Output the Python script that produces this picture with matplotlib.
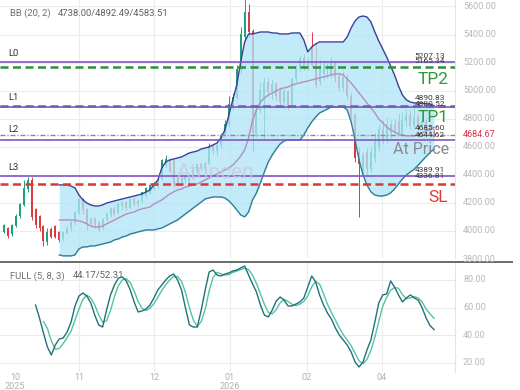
import numpy as np
import matplotlib
matplotlib.use("Agg")
import matplotlib.pyplot as plt
from matplotlib.lines import Line2D

plt.rcParams['font.family'] = ['Roboto', 'DejaVu Sans']

# ---- data ----
opens = [3995,4020,3975,4035,4105,4185,4300,4360,4150,4100,4030,3920,4010,4030,
         3990,3940,3985,4020,4060,4130,4220,4150,4050,4090,4060,4020,4080,4110,4160,4130,
         4180,4200,4160,4220,4190,4210,4250,4270,4300,4320,4370,4470,4500,4500,4380,4340,
         4380,4350,4380,4430,4470,4440,4480,4600,4570,4610,4680,4760,4890,4950,5150,5380,
         5560,5420,4700,4860,4950,5060,4990,5040,4990,4920,4990,4900,5080,5160,5230,5170,
         5300,5200,5060,5120,5180,5110,5200,5100,5020,5090,4960,4820,4560,4430,4560,4440,
         4520,4600,4720,4650,4760,4700,4780,4700,4780,4820,4750,4810,4740,4780,4720,4700]
highs = [4050,4030,4050,4120,4200,4365,4385,4385,4160,4110,4040,4020,4030,4040,
         4000,4000,4035,4070,4140,4240,4235,4160,4100,4100,4070,4090,4135,4170,4175,4205,
         4215,4215,4235,4240,4225,4280,4310,4335,4350,4380,4510,4540,4510,4510,4400,4400,
         4400,4410,4455,4485,4490,4500,4630,4620,4630,4700,4790,4960,4980,5180,5450,5680,
         5620,5440,4900,5060,5100,5100,5080,5060,5025,5010,5005,5100,5180,5250,5260,5240,
         5420,5340,5220,5210,5200,5240,5220,5130,5140,5120,4980,4840,4600,4560,4590,4600,
         4700,4760,4790,4810,4790,4800,4840,4850,4870,4860,4880,4830,4820,4800,4760,4730]
lows = [3985,3950,3965,4025,4095,4180,4280,4080,4020,4000,3890,3900,3950,3950,
        3920,3930,3975,4000,4040,4120,4120,4010,4030,4020,3995,4010,4070,4100,4105,4120,
        4150,4150,4155,4175,4170,4200,4235,4260,4290,4305,4360,4455,4410,4310,4320,4320,
        4340,4340,4365,4415,4430,4430,4470,4550,4540,4590,4670,4740,4860,4940,5120,5350,
        5380,4560,4670,4840,4650,4960,4940,4930,4900,4870,4860,4890,5060,5140,5150,5150,
        5170,5020,5040,5080,5090,5100,5060,5000,5000,4940,4800,4490,4100,4390,4400,4420,
        4490,4570,4620,4630,4660,4680,4680,4680,4740,4730,4730,4720,4710,4700,4680,4670]
closes = [4040,3965,4035,4105,4185,4300,4360,4100,4040,4020,3930,3990,3960,3960,
          3935,3985,4020,4060,4130,4225,4150,4050,4090,4040,4010,4080,4120,4160,4120,4190,
          4200,4160,4220,4190,4210,4270,4300,4320,4340,4360,4500,4510,4430,4330,4340,4370,
          4360,4390,4440,4470,4450,4480,4600,4570,4610,4680,4760,4900,4950,5150,5400,5560,
          5420,4700,4860,5000,5060,4990,5040,4960,4920,4990,4890,5080,5160,5230,5170,5210,
          5180,5040,5150,5180,5110,5200,5090,5020,5090,4960,4820,4520,4480,4540,4440,4560,
          4640,4720,4650,4760,4700,4760,4700,4790,4820,4750,4810,4740,4780,4720,4700,4684.67]

bb_start = 14
bb_upper = [4328,4328,4328,4320,4306,4256,4221,4199,4185,4178,4178,4185,4199,4206,4214,4221,
            4228,4235,4242,4249,4256,4263,4278,4292,4328,4363,4449,4492,4506,4513,4520,4527,
            4542,4556,4563,4570,4584,4591,4599,4613,4627,4663,4720,4827,4934,5041,5205,5347,
            5404,5404,5411,5418,5418,5418,5411,5411,5404,5404,5404,5411,5411,5411,5361,5276,
            5311,5333,5347,5347,5347,5347,5347,5347,5347,5383,5447,5497,5525,5532,5525,5490,
            5418,5354,5297,5240,5176,5112,5033,4969,4934,4919,4912,4912,4912,4905,4905,4892.49]
bb_mid = [4078,4078,4078,4078,4078,4071,4064,4050,4035,4028,4028,4035,4050,4064,4078,4093,
          4107,4121,4128,4135,4150,4157,4164,4171,4192,4206,4221,4242,4263,4278,4292,4299,
          4313,4320,4328,4335,4349,4363,4378,4392,4406,4420,4435,4449,4470,4499,4534,4577,
          4663,4791,4862,4919,4948,4969,4983,4998,5012,5019,5026,5040,5048,5055,5062,5069,
          5076,5083,5090,5098,5105,5112,5119,5119,5112,5083,5055,5019,4983,4948,4912,4877,
          4841,4798,4770,4741,4720,4706,4691,4684,4677,4677,4677,4684,4698,4713,4727,4738.00]
bb_lower = [3829,3822,3822,3822,3829,3872,3886,3886,3893,3893,3900,3907,3914,3921,3936,3943,
            3957,3964,3978,3985,3993,4000,4007,4007,4007,4014,4021,4035,4050,4064,4078,4100,
            4121,4142,4164,4185,4206,4228,4235,4242,4242,4242,4235,4214,4185,4150,4114,4100,
            4135,4221,4271,4342,4420,4492,4542,4584,4620,4641,4648,4648,4648,4648,4684,4734,
            4777,4812,4841,4855,4869,4884,4884,4884,4884,4862,4777,4648,4506,4399,4328,4278,
            4256,4249,4249,4256,4271,4299,4335,4370,4399,4420,4440,4470,4500,4530,4560,4583.51]

k_start = 8
stoch_k = [61.9,52.5,41.7,31.6,25.8,33.0,37.3,38.1,42.4,49.6,61.2,68.4,70.6,68.4,63.4,54.7,
           47.5,46.0,58.3,69.2,76.4,81.4,82.2,79.3,72.8,64.1,56.9,57.6,59.0,61.9,67.0,72.8,
           76.4,80.0,82.9,84.3,80.0,72.8,59.8,47.5,46.0,46.0,58.3,72.8,85.8,87.2,83.6,82.9,
           84.3,85.1,86.5,87.2,88.7,90.1,83.6,77.1,71.3,61.9,54.7,53.3,58.3,64.8,67.7,65.5,
           61.2,61.2,62.6,64.1,67.0,74.9,82.9,78.6,69.2,61.9,56.1,51.8,45.3,40.2,36.6,33.0,
           27.9,20.7,17.1,20.7,29.4,36.6,49.6,63.4,69.2,69.9,79.3,74.9,69.2,64.1,67.0,69.2,
           67.0,65.5,59.8,52.5,47.0,44.17]
d_start = 10
stoch_d = [50.0,45.0,36.0,30.0,30.5,34.0,38.5,43.0,51.0,59.0,66.0,69.0,67.0,62.0,55.0,49.5,
           50.5,58.0,68.0,76.0,80.0,81.0,78.0,72.0,64.5,59.5,58.0,59.5,63.0,67.5,72.5,76.5,
           80.0,82.5,82.5,79.0,71.0,60.0,51.0,46.5,50.0,59.0,72.0,82.0,85.5,84.5,83.5,84.0,
           85.5,86.5,87.5,88.5,87.5,83.5,77.5,70.0,62.5,56.5,55.5,58.5,63.5,66.0,64.5,62.5,
           61.5,62.5,64.5,68.5,75.0,79.0,77.0,70.0,62.5,56.5,51.0,45.5,40.5,36.5,32.5,27.0,
           21.5,19.5,22.5,29.0,38.5,50.0,61.0,67.5,72.5,74.5,74.0,69.5,66.5,67.0,68.0,67.0,
           64.0,59.0,55.5,52.31]

# level lines
levels = [5207.13, 5165.34, 4890.83, 4880.52, 4685.60, 4644.62, 4389.91, 4336.81]
level_kind = ['purple', 'green', 'green', 'purple', 'grey', 'purple', 'purple', 'red']
level_label_py = [55.5, 61.0, 97.5, 104.0, 128.5, 135.0, 170.0, 176.5]
price_ticks = [5600, 5400, 5200, 5000, 4800, 4600, 4400, 4200, 4000, 3800]
stoch_ticks = [80, 60, 40, 20]
last_price = 4684.67
month_px = [15, 79, 154, 230, 307, 382]
month_lbl = ["10\n2025", "11", "12", "01\n2026", "02", "04"]

# ---- figure ----
W, H = 520, 390
fig = plt.figure(figsize=(5.2, 3.9), dpi=100)
fig.patch.set_facecolor('white')

sp = 3.945  # px per bar
def bx(px):
    return (px - 4) / sp

ax = fig.add_axes([0, 1 - 258 / H, 455 / W, 258 / H])
ax2 = fig.add_axes([0, 1 - 372 / H, 455 / W, 110 / H])

n = len(closes)
x = np.arange(n)
for a in (ax, ax2):
    a.set_xlim(bx(0), bx(455))
    a.set_xticks([])
    a.set_yticks([])
    for s in a.spines.values():
        s.set_visible(False)
    a.spines['right'].set_visible(True)
    a.spines['right'].set_color('#e4e4e4')
    for mp in month_px[1:]:
        a.axvline(bx(mp), color='#ececec', lw=0.8, zorder=0)

ax.set_ylim(3807, 5646)
ax2.set_ylim(13.5, 93)

for t in price_ticks:
    ax.axhline(t, color='#ececec', lw=0.8, zorder=0)
for t in stoch_ticks:
    ax2.axhline(t, color='#ececec', lw=0.8, zorder=0)

# candles
o = np.array(opens); c = np.array(closes); h = np.array(highs); l = np.array(lows)
up = c >= o
cols = np.where(up, '#22a07a', '#dc3a40')
ax.vlines(x, l, h, colors=cols, lw=0.7, zorder=1)
ax.bar(x, np.abs(c - o) + 4, bottom=np.minimum(o, c), width=0.5, color=cols, zorder=1)

# bollinger bands
xb = np.arange(bb_start, bb_start + len(bb_upper))
ax.fill_between(xb, bb_lower, bb_upper, color='#b1e5f7', alpha=0.78, lw=0, zorder=2)
ax.plot(xb, bb_upper, color='#3c3f9a', lw=1.0, zorder=3)
ax.plot(xb, bb_lower, color='#2c7f98', lw=1.0, zorder=3)
ax.plot(xb, bb_mid, color='#b48fbc', lw=1.0, zorder=3)

# watermark
fig.text(177 / W, 1 - 172 / H, "Atrincen", fontsize=15, color='#cfc6dc', alpha=0.8,
         va='center', ha='left', zorder=4)

# level lines
for v, k in zip(levels, level_kind):
    if k == 'purple':
        ax.axhline(v, color='#8156c6', lw=1.2, zorder=4)
    elif k == 'green':
        ax.axhline(v, color='#2f8f3a', lw=1.8, dashes=(3.2, 1.8), zorder=4)
    elif k == 'red':
        ax.axhline(v, color='#e03535', lw=1.8, dashes=(3.2, 1.8), zorder=4)
    else:
        ax.axhline(v, color='#8a8a8a', lw=1.0, dashes=(3.6, 1.4, 0.8, 1.4), zorder=4)

def ypx(v):
    return 6.5 + (5600 - v) * 0.1403

for v, py in zip(levels, level_label_py):
    fig.text(445 / W, 1 - py / H, f"{v:.2f}", fontsize=6.0, color='#3a3a3a',
             ha='right', va='center')

for name, py in [("L0", 53), ("L1", 98), ("L2", 129), ("L3", 168)]:
    fig.text(8 / W, 1 - py / H, name, fontsize=6.8, color='#333333', va='center')

fig.text(418 / W, 1 - 80 / H, "TP2", fontsize=12.5, color='#2e9a3a', va='center')
fig.text(418 / W, 1 - 118 / H, "TP1", fontsize=12.5, color='#2e9a3a', va='center')
fig.text(393 / W, 1 - 150 / H, "At Price", fontsize=11.5, color='#8a8a8a', va='center')
fig.text(428 / W, 1 - 198 / H, "SL", fontsize=12.5, color='#e03a3a', va='center')

# price axis labels
for t in price_ticks:
    fig.text(463 / W, 1 - ypx(t) / H, f"{t:.2f}", fontsize=6.5, color='#b8b8b8', va='center')
fig.text(463 / W, 1 - ypx(last_price) / H, f"{last_price:.2f}", fontsize=6.5,
         color='#e0304a', va='center')

fig.text(10 / W, 1 - 13 / H, "BB (20, 2)", fontsize=6.8, color='#707070', va='center')
fig.text(58 / W, 1 - 13 / H, "4738.00/4892.49/4583.51", fontsize=6.8, color='#606060',
         va='center')

# stochastic
ax2.plot(np.arange(d_start, d_start + len(stoch_d)), stoch_d, color='#52c49f', lw=1.0, zorder=3)
ax2.plot(np.arange(k_start, k_start + len(stoch_k)), stoch_k, color='#23707c', lw=1.0, zorder=3)

def spx(v):
    return 280 + (80 - v) * 1.383

for t in stoch_ticks:
    fig.text(463 / W, 1 - spx(t) / H, f"{t:.2f}", fontsize=6.5, color='#b8b8b8', va='center')
fig.text(10 / W, 1 - 276 / H, "FULL (5, 8, 3)", fontsize=6.8, color='#707070', va='center')
fig.text(73 / W, 1 - 276 / H, "44.17/52.31", fontsize=6.8, color='#606060', va='center')

fig.add_artist(Line2D([0, 512 / W], [1 - 262 / H, 1 - 262 / H], color='#6a6a6a', lw=1.4))

for mp, ml in zip(month_px, month_lbl):
    fig.text(mp / W, 1 - 373 / H, ml, fontsize=6.5, color='#b0b0b0', ha='center', va='top',
             linespacing=1.0)

fig.savefig("out.png", dpi=100)
